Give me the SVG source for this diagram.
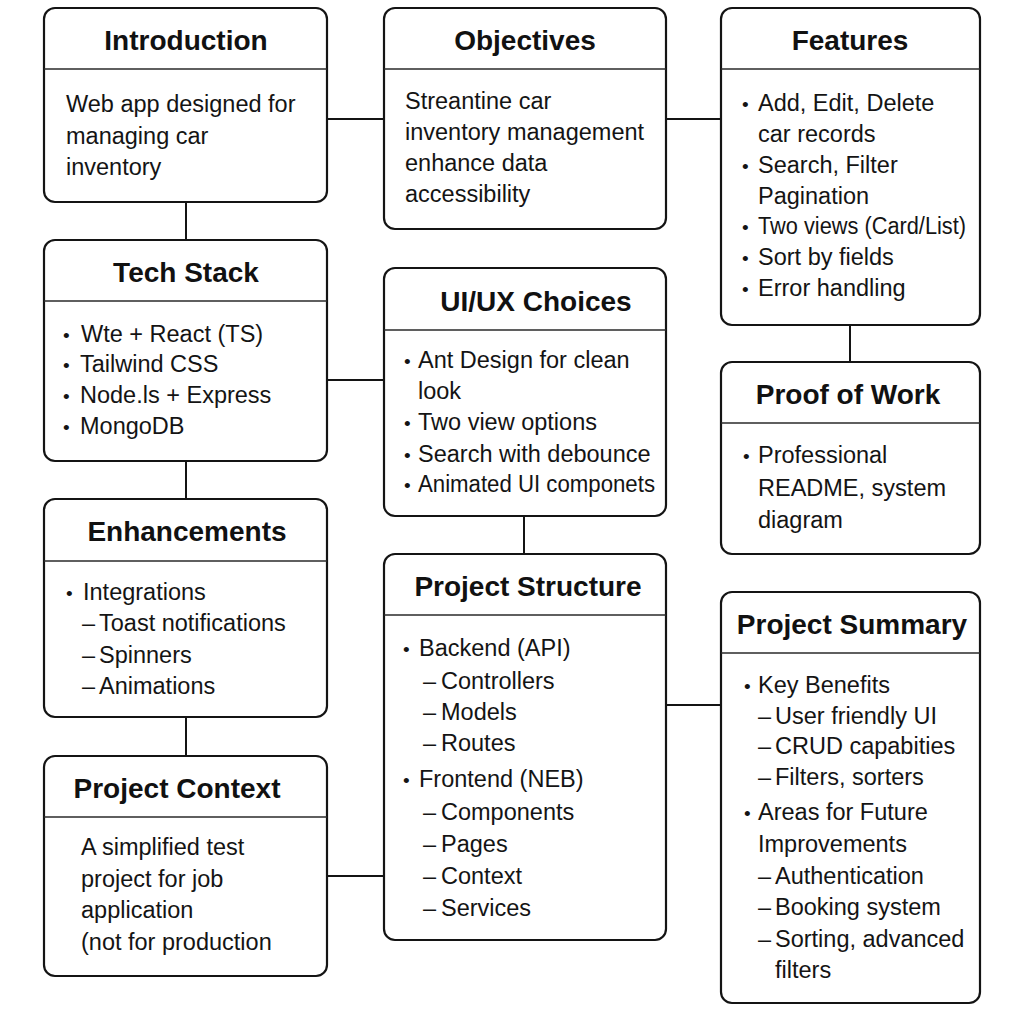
<svg xmlns="http://www.w3.org/2000/svg" width="1024" height="1024" viewBox="0 0 1024 1024">
  <style>
    .box { fill: #ffffff; stroke: #141414; stroke-width: 2.2; }
    .sep { stroke: #2a2a2a; stroke-width: 1.4; }
    .link { stroke: #141414; stroke-width: 2; fill: none; }
    .title { font-family: "Liberation Sans", Arial, sans-serif; font-weight: bold; font-size: 28px; fill: #111; text-anchor: middle; }
    .body { font-family: "Liberation Sans", Arial, sans-serif; font-size: 23.5px; fill: #141414; }
    .b { font-size: 19px; }
  </style>
  <rect width="1024" height="1024" fill="#ffffff"/>

  <!-- connectors -->
  <g id="connectors">
    <line class="link" x1="327" y1="119" x2="384" y2="119"/>
    <line class="link" x1="666" y1="119" x2="721" y2="119"/>
    <line class="link" x1="186" y1="202" x2="186" y2="240"/>
    <line class="link" x1="327" y1="380" x2="384" y2="380"/>
    <line class="link" x1="186" y1="461" x2="186" y2="499"/>
    <line class="link" x1="186" y1="717" x2="186" y2="756"/>
    <line class="link" x1="524" y1="516" x2="524" y2="554"/>
    <line class="link" x1="850" y1="325" x2="850" y2="362"/>
    <line class="link" x1="327" y1="876" x2="384" y2="876"/>
    <line class="link" x1="666" y1="705" x2="721" y2="705"/>
  </g>

  <!-- Introduction -->
  <g id="introduction">
    <rect class="box" x="44" y="8" width="283" height="194" rx="11"/>
    <line class="sep" x1="44" y1="69" x2="327" y2="69"/>
    <text class="title" x="186" y="50">Introduction</text>
    <text class="body" x="66" y="112">Web app designed for</text>
    <text class="body" x="66" y="144">managing car</text>
    <text class="body" x="66" y="175">inventory</text>
  </g>

  <!-- Objectives -->
  <g id="objectives">
    <rect class="box" x="384" y="8" width="282" height="221" rx="11"/>
    <line class="sep" x1="384" y1="69" x2="666" y2="69"/>
    <text class="title" x="525" y="50">Objectives</text>
    <text class="body" x="405" y="109">Streantine car</text>
    <text class="body" x="405" y="140">inventory management</text>
    <text class="body" x="405" y="171">enhance data</text>
    <text class="body" x="405" y="202">accessibility</text>
  </g>

  <!-- Features -->
  <g id="features">
    <rect class="box" x="721" y="8" width="259" height="317" rx="11"/>
    <line class="sep" x1="721" y1="69" x2="980" y2="69"/>
    <text class="title" x="850" y="50">Features</text>
    <text class="body" y="111"><tspan class="b" x="742">•</tspan><tspan x="758">Add, Edit, Delete</tspan></text>
    <text class="body" x="758" y="142">car records</text>
    <text class="body" y="173"><tspan class="b" x="742">•</tspan><tspan x="758">Search, Filter</tspan></text>
    <text class="body" x="758" y="204">Pagination</text>
    <text class="body" y="234"><tspan class="b" x="742">•</tspan><tspan x="758" textLength="208" lengthAdjust="spacingAndGlyphs">Two views (Card/List)</tspan></text>
    <text class="body" y="265"><tspan class="b" x="742">•</tspan><tspan x="758">Sort by fields</tspan></text>
    <text class="body" y="296"><tspan class="b" x="742">•</tspan><tspan x="758">Error handling</tspan></text>
  </g>

  <!-- Tech Stack -->
  <g id="tech-stack">
    <rect class="box" x="44" y="240" width="283" height="221" rx="11"/>
    <line class="sep" x1="44" y1="301" x2="327" y2="301"/>
    <text class="title" x="186" y="282">Tech Stack</text>
    <text class="body" y="342"><tspan class="b" x="63">•</tspan><tspan x="81">Wte + React (TS)</tspan></text>
    <text class="body" y="372"><tspan class="b" x="63">•</tspan><tspan x="80">Tailwind CSS</tspan></text>
    <text class="body" y="403"><tspan class="b" x="63">•</tspan><tspan x="80">Node.ls + Express</tspan></text>
    <text class="body" y="434"><tspan class="b" x="63">•</tspan><tspan x="80">MongoDB</tspan></text>
  </g>

  <!-- UI/UX Choices -->
  <g id="uiux-choices">
    <rect class="box" x="384" y="268" width="282" height="248" rx="11"/>
    <line class="sep" x1="384" y1="330" x2="666" y2="330"/>
    <text class="title" x="536" y="311">UI/UX Choices</text>
    <text class="body" y="368"><tspan class="b" x="404">•</tspan><tspan x="418">Ant Design for clean</tspan></text>
    <text class="body" x="418" y="399">look</text>
    <text class="body" y="430"><tspan class="b" x="404">•</tspan><tspan x="418">Two view options</tspan></text>
    <text class="body" y="462"><tspan class="b" x="404">•</tspan><tspan x="418">Search with debounce</tspan></text>
    <text class="body" y="492"><tspan class="b" x="404">•</tspan><tspan x="418" textLength="237" lengthAdjust="spacingAndGlyphs">Animated UI componets</tspan></text>
  </g>

  <!-- Proof of Work -->
  <g id="proof-of-work">
    <rect class="box" x="721" y="362" width="259" height="192" rx="11"/>
    <line class="sep" x1="721" y1="423" x2="980" y2="423"/>
    <text class="title" x="848" y="404">Proof of Work</text>
    <text class="body" y="463"><tspan class="b" x="743">•</tspan><tspan x="758">Professional</tspan></text>
    <text class="body" x="758" y="496">README, system</text>
    <text class="body" x="758" y="528">diagram</text>
  </g>

  <!-- Enhancements -->
  <g id="enhancements">
    <rect class="box" x="44" y="499" width="283" height="218" rx="11"/>
    <line class="sep" x1="44" y1="561" x2="327" y2="561"/>
    <text class="title" x="187" y="541">Enhancements</text>
    <text class="body" y="600"><tspan class="b" x="66">•</tspan><tspan x="83">Integrations</tspan></text>
    <text class="body" y="631"><tspan x="82">–</tspan><tspan x="99">Toast notifications</tspan></text>
    <text class="body" y="663"><tspan x="82">–</tspan><tspan x="99">Spinners</tspan></text>
    <text class="body" y="694"><tspan x="82">–</tspan><tspan x="99">Animations</tspan></text>
  </g>

  <!-- Project Context -->
  <g id="project-context">
    <rect class="box" x="44" y="756" width="283" height="220" rx="11"/>
    <line class="sep" x1="44" y1="817" x2="327" y2="817"/>
    <text class="title" x="177" y="798">Project Context</text>
    <text class="body" x="81" y="855">A simplified test</text>
    <text class="body" x="81" y="887">project for job</text>
    <text class="body" x="81" y="918">application</text>
    <text class="body" x="81" y="950">(not for production</text>
  </g>

  <!-- Project Structure -->
  <g id="project-structure">
    <rect class="box" x="384" y="554" width="282" height="386" rx="11"/>
    <line class="sep" x1="384" y1="615" x2="666" y2="615"/>
    <text class="title" x="528" y="596">Project Structure</text>
    <text class="body" y="656"><tspan class="b" x="403">•</tspan><tspan x="419">Backend (API)</tspan></text>
    <text class="body" y="689"><tspan x="423">–</tspan><tspan x="441">Controllers</tspan></text>
    <text class="body" y="720"><tspan x="423">–</tspan><tspan x="441">Models</tspan></text>
    <text class="body" y="751"><tspan x="423">–</tspan><tspan x="441">Routes</tspan></text>
    <text class="body" y="787"><tspan class="b" x="403">•</tspan><tspan x="419">Frontend (NEB)</tspan></text>
    <text class="body" y="820"><tspan x="423">–</tspan><tspan x="441">Components</tspan></text>
    <text class="body" y="852"><tspan x="423">–</tspan><tspan x="441">Pages</tspan></text>
    <text class="body" y="884"><tspan x="423">–</tspan><tspan x="441">Context</tspan></text>
    <text class="body" y="916"><tspan x="423">–</tspan><tspan x="441">Services</tspan></text>
  </g>

  <!-- Project Summary -->
  <g id="project-summary">
    <rect class="box" x="721" y="592" width="259" height="411" rx="11"/>
    <line class="sep" x1="721" y1="653" x2="980" y2="653"/>
    <text class="title" x="852" y="634">Project Summary</text>
    <text class="body" y="693"><tspan class="b" x="744">•</tspan><tspan x="758">Key Benefits</tspan></text>
    <text class="body" y="724"><tspan x="758">–</tspan><tspan x="775">User friendly UI</tspan></text>
    <text class="body" y="754"><tspan x="758">–</tspan><tspan x="775">CRUD capabities</tspan></text>
    <text class="body" y="785"><tspan x="758">–</tspan><tspan x="775">Filters, sorters</tspan></text>
    <text class="body" y="820"><tspan class="b" x="744">•</tspan><tspan x="758">Areas for Future</tspan></text>
    <text class="body" x="758" y="852">Improvements</text>
    <text class="body" y="884"><tspan x="758">–</tspan><tspan x="775">Authentication</tspan></text>
    <text class="body" y="915"><tspan x="758">–</tspan><tspan x="775">Booking system</tspan></text>
    <text class="body" y="947"><tspan x="758">–</tspan><tspan x="775">Sorting, advanced</tspan></text>
    <text class="body" x="775" y="978">filters</text>
  </g>
</svg>
